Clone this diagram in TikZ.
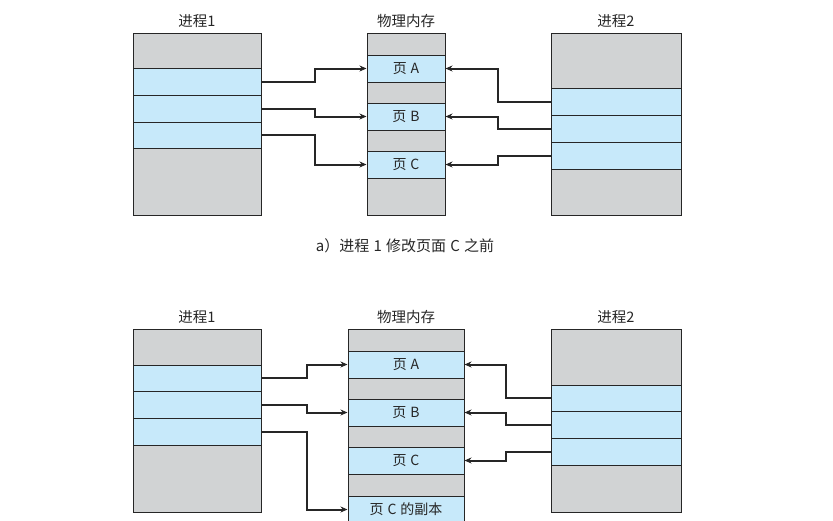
\documentclass[tikz,border=0pt]{standalone}
\usepackage{fontspec}
\setmainfont{Noto Sans CJK SC}
\usetikzlibrary{arrows.meta,fit,positioning}
\definecolor{grau}{RGB}{209,211,212}
\definecolor{hellblau}{RGB}{199,233,250}
\newcommand\lz{\hspace{0.28em}}
\tikzset{
  seg/.style={draw=black!85,line width=1pt,fill=#1,inner sep=0pt},
  beschr/.style={font=\fontsize{14}{16}\selectfont,text=black!85,inner sep=1pt},
  zeiger/.style={line width=2pt,draw=black!85,-{Stealth[length=7pt,width=6pt]}},
  titel/.style={font=\fontsize{14.5}{16}\selectfont,text=black!85}
}
\begin{document}
\begin{tikzpicture}[x=1pt,y=-1pt]
\useasboundingbox (0,0) rectangle (833,520);
%a) oben
\foreach \n/\ya/\yb/\c in {p1o1/33/68/grau,p1o2/68/95/hellblau,p1o3/95/122/hellblau,p1o4/122/148/hellblau,p1o5/148/215/grau}{
\node[seg=\c,fit={(133,\ya) (261,\yb)}] (\n) {};
}
\foreach \n/\ya/\yb/\c/\t in {mo1/33/55/grau/,mo2/55/82/hellblau/页\lz A,mo3/82/103/grau/,mo4/103/130/hellblau/页\lz B,mo5/130/151/grau/,mo6/151/178/hellblau/页\lz C,mo7/178/215/grau/}{
\node[seg=\c,fit={(367,\ya) (445,\yb)},label={[beschr]center:\t}] (\n) {};
}
\foreach \n/\ya/\yb/\c in {p2o1/33/88/grau,p2o2/88/115/hellblau,p2o3/115/142/hellblau,p2o4/142/169/hellblau,p2o5/169/215/grau}{
\node[seg=\c,fit={(551,\ya) (681,\yb)}] (\n) {};
}
\node[titel,above=1pt of p1o1] (t1o) {进程1};
\node[titel,above=1pt of mo1] (tmo) {物理内存};
\node[titel,above=1pt of p2o1] (t2o) {进程2};
\draw[zeiger] (p1o2.east) -- ++(53,0) |- (mo2.west);
\draw[zeiger] (p1o3.east) -- ++(53,0) |- (mo4.west);
\draw[zeiger] (p1o4.east) -- ++(53,0) |- (mo6.west);
\draw[zeiger] (p2o2.west) -- ++(-53,0) |- (mo2.east);
\draw[zeiger] (p2o3.west) -- ++(-53,0) |- (mo4.east);
\draw[zeiger] (p2o4.west) -- ++(-53,0) |- (mo6.east);
\node[titel,font=\fontsize{15}{17}\selectfont] (capa) at (405,246) {a）进程\lz 1\lz 修改页面\lz C\lz 之前};
%b) unten
\foreach \n/\ya/\yb/\c in {p1u1/329/365/grau,p1u2/365/391/hellblau,p1u3/391/418/hellblau,p1u4/418/445/hellblau,p1u5/445/512/grau}{
\node[seg=\c,fit={(133,\ya) (261,\yb)}] (\n) {};
}
\foreach \n/\ya/\yb/\c/\t in {mu1/329/351/grau/,mu2/351/378/hellblau/页\lz A,mu3/378/399/grau/,mu4/399/426/hellblau/页\lz B,mu5/426/447/grau/,mu6/447/474/hellblau/页\lz C,mu7/474/496/grau/,mu8/496/523/hellblau/页\lz C\lz 的副本}{
\node[seg=\c,fit={(348,\ya) (464,\yb)},label={[beschr]center:\t}] (\n) {};
}
\foreach \n/\ya/\yb/\c in {p2u1/329/385/grau,p2u2/385/411/hellblau,p2u3/411/438/hellblau,p2u4/438/465/hellblau,p2u5/465/512/grau}{
\node[seg=\c,fit={(551,\ya) (681,\yb)}] (\n) {};
}
\node[titel,above=1pt of p1u1] (t1u) {进程1};
\node[titel,above=1pt of mu1] (tmu) {物理内存};
\node[titel,above=1pt of p2u1] (t2u) {进程2};
\draw[zeiger] (p1u2.east) -- ++(45,0) |- (mu2.west);
\draw[zeiger] (p1u3.east) -- ++(45,0) |- (mu4.west);
\draw[zeiger] (p1u4.east) -- ++(45,0) |- (mu8.west);
\draw[zeiger] (p2u2.west) -- ++(-45,0) |- (mu2.east);
\draw[zeiger] (p2u3.west) -- ++(-45,0) |- (mu4.east);
\draw[zeiger] (p2u4.west) -- ++(-45,0) |- (mu6.east);
\end{tikzpicture}
\end{document}
